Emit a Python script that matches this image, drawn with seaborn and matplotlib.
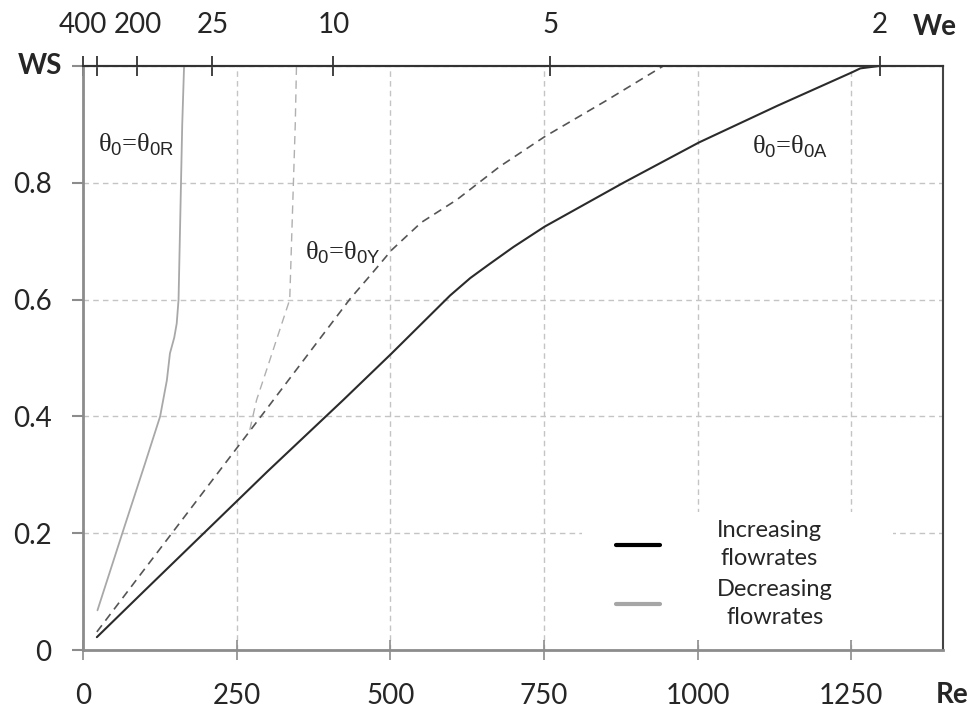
import seaborn as sns
import pandas as pd
import matplotlib.pyplot as plt
from matplotlib.lines import Line2D
from matplotlib.patches import Rectangle

# Re vs WS
inc_A_re = [22, 100, 200, 300, 423, 502, 597, 630, 660, 700, 751, 879, 1002, 1130, 1251, 1265, 1295]
inc_A_ws = [0.022, 0.102, 0.204, 0.306, 0.428, 0.508, 0.607, 0.637, 0.660, 0.690, 0.725, 0.800, 0.869, 0.932, 0.989, 0.996, 1.0]

inc_Y_re = [22, 100, 200, 300, 434, 470, 502, 550, 608, 678, 751, 850, 944]
inc_Y_ws = [0.031, 0.139, 0.277, 0.415, 0.601, 0.645, 0.685, 0.732, 0.771, 0.828, 0.879, 0.940, 1.0]

dec_Y_re = [271, 282, 300, 320, 336, 339, 342, 345, 347]
dec_Y_ws = [0.377, 0.428, 0.485, 0.549, 0.600, 0.700, 0.800, 0.900, 1.0]

dec_R_re = [23, 65, 100, 125, 136, 141, 148, 152, 155, 157, 159, 161, 164]
dec_R_ws = [0.068, 0.205, 0.318, 0.400, 0.462, 0.508, 0.535, 0.559, 0.600, 0.700, 0.800, 0.900, 1.0]

re_ticks = [0, 250, 500, 750, 1000, 1250]
ws_ticks = [0, 0.2, 0.4, 0.6, 0.8, 1.0]
ws_labels = ['0', '0.2', '0.4', '0.6', '0.8', '']
we_pos = [0, 23, 88, 210, 407, 760, 1297]
we_labels = ['400', '', '200', '25', '10', '5', '2']

sns.set_theme(style='white')
plt.rcParams['font.family'] = ['Lato', 'DejaVu Sans']
plt.rcParams['mathtext.fontset'] = 'custom'
plt.rcParams['mathtext.rm'] = 'Liberation Sans'

fig, ax = plt.subplots(figsize=(9.77, 7.2), dpi=100)
fig.subplots_adjust(left=0.0853, right=0.9655, bottom=0.0972, top=0.9083)

curves = [
    (inc_A_re, inc_A_ws, '#2b2b2b', '-', 1.5),
    (inc_Y_re, inc_Y_ws, '#555555', (0, (5, 3.5)), 1.2),
    (dec_Y_re, dec_Y_ws, '#b0b0b0', (0, (6, 4)), 1.0),
    (dec_R_re, dec_R_ws, '#a8a8a8', '-', 1.3),
]
for xs, ys, col, ls, lw in curves:
    df = pd.DataFrame({'Re': xs, 'WS': ys})
    sns.lineplot(data=df, x='Re', y='WS', ax=ax, color=col, linestyle=ls,
                 linewidth=lw, sort=False, estimator=None)

ax.set_xlim(0, 1400)
ax.set_ylim(0, 1)
ax.set_xlabel('')
ax.set_ylabel('')
ax.set_xticks(re_ticks)
ax.set_xticklabels([str(t) for t in re_ticks])
ax.set_yticks(ws_ticks)
ax.set_yticklabels(ws_labels)
ax.tick_params(axis='x', direction='inout', length=15, width=1.2, color='#8c8c8c',
               pad=16, labelsize=20, bottom=True)
ax.tick_params(axis='y', direction='out', length=8, width=1.5, color='#8c8c8c',
               pad=15, labelsize=20, left=True)

ax.set_axisbelow(True)
ax.grid(True, color='#c4c4c4', linestyle=(0, (4, 3)), linewidth=1)

for s in ['left', 'bottom']:
    ax.spines[s].set_color('#8c8c8c')
    ax.spines[s].set_linewidth(2)
ax.spines['right'].set_color('#444444')
ax.spines['right'].set_linewidth(1.5)
ax.spines['top'].set_color('#333333')
ax.spines['top'].set_linewidth(1.5)

top = ax.secondary_xaxis('top')
top.set_xticks(we_pos, labels=we_labels)
top.tick_params(direction='inout', length=15, width=1.2, color='#222222', pad=13, labelsize=20)
top.spines['top'].set_color('#333333')
top.spines['top'].set_linewidth(1.5)

ax.text(-0.025, 1.0, 'WS', transform=ax.transAxes, ha='right', va='center',
        fontsize=20, fontweight='bold')
ax.text(1.01, -0.077, 'Re', transform=ax.transAxes, ha='center', va='center',
        fontsize=20, fontweight='bold')
ax.text(0.99, 1.067, 'We', transform=ax.transAxes, ha='center', va='center',
        fontsize=20, fontweight='bold')

ann = dict(fontsize=19, family='Liberation Serif', ha='left', va='center')
ax.text(24, 0.865, r'θ$_0$=θ$_{\mathrm{0R}}$', **ann)
ax.text(361, 0.68, r'θ$_0$=θ$_{\mathrm{0Y}}$', **ann)
ax.text(1088, 0.862, r'θ$_0$=θ$_{\mathrm{0A}}$', **ann)

# white area behind the legend hides the grid there
ax.add_patch(Rectangle((0.58, 0.017), 0.3615, 0.219, transform=ax.transAxes,
                       facecolor='white', edgecolor='none', zorder=1))
handles = [Line2D([], [], color='black', lw=3), Line2D([], [], color='#a6a6a6', lw=3)]
leg = ax.legend(handles, ['Increasing\nflowrates', 'Decreasing\nflowrates'],
                loc='center', bbox_to_anchor=(0.7456, 0.13), frameon=False,
                fontsize=17, handlelength=1.85, handletextpad=2.4, labelspacing=0.4)
for t in leg.get_texts():
    t.set_multialignment('center')
    t.set_linespacing(1.45)

fig.savefig('out.png', dpi=100)
